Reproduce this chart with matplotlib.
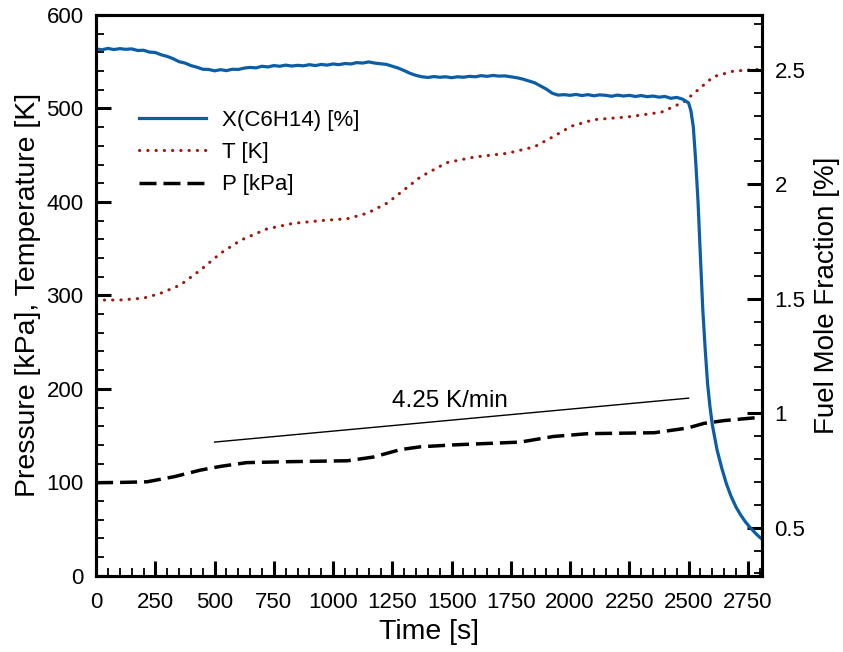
import numpy as np
import matplotlib.pyplot as plt
from matplotlib.ticker import MultipleLocator

plt.rcParams['font.family'] = ['Liberation Sans', 'DejaVu Sans']

# fuel mole fraction X(C6H14) [%], right axis
x_time = list(range(0, 2501, 25)) + [2510, 2520, 2530, 2540, 2550, 2560, 2570, 2580, 2590,
                                     2600, 2620, 2640, 2660, 2680, 2700, 2720, 2740, 2760,
                                     2780, 2800, 2815]
x_frac = [2.592, 2.588, 2.594, 2.589, 2.593, 2.590, 2.592, 2.585, 2.586, 2.578,
          2.576, 2.566, 2.559, 2.549, 2.536, 2.530, 2.519, 2.512, 2.503, 2.502,
          2.496, 2.501, 2.497, 2.503, 2.502, 2.508, 2.511, 2.509, 2.516, 2.513,
          2.519, 2.516, 2.521, 2.517, 2.520, 2.518, 2.523, 2.519, 2.524, 2.521,
          2.526, 2.523, 2.528, 2.526, 2.532, 2.530, 2.535, 2.530, 2.527, 2.524,
          2.516, 2.508, 2.497, 2.485, 2.476, 2.470, 2.467, 2.471, 2.468, 2.470,
          2.466, 2.470, 2.468, 2.472, 2.470, 2.475, 2.472, 2.476, 2.473, 2.474,
          2.470, 2.466, 2.460, 2.452, 2.444, 2.430, 2.416, 2.398, 2.390, 2.392,
          2.389, 2.393, 2.388, 2.392, 2.387, 2.391, 2.389, 2.385, 2.390, 2.386,
          2.389, 2.384, 2.388, 2.383, 2.386, 2.381, 2.384, 2.376, 2.380, 2.372,
          2.356,
          2.32, 2.25, 2.10, 1.92, 1.68, 1.45, 1.28, 1.13, 1.03,
          0.95, 0.84, 0.76, 0.69, 0.635, 0.59, 0.555, 0.525, 0.50,
          0.478, 0.458, 0.445]

# temperature [K]
t_time = [0, 100, 200, 270, 355, 440, 525, 610, 720, 830, 950, 1060, 1145, 1230, 1340,
          1370, 1480, 1595, 1735, 1850, 1930, 2005, 2100, 2245, 2385, 2480, 2540, 2605,
          2690, 2810]
temp = [295, 295, 297, 302, 311, 327, 345, 359, 371, 377, 380, 382, 388, 399, 421,
        427, 442, 448, 452, 459, 470, 481, 488, 491, 496, 507, 520, 534, 540, 542]

# pressure [kPa]
p_time = [0, 100, 215, 330, 440, 525, 635, 805, 1060, 1170, 1285, 1370, 1510, 1790,
          1930, 2075, 2355, 2495, 2565, 2650, 2780, 2810]
pres = [99.5, 99.8, 100.5, 106, 113, 117, 121, 122, 123, 127, 135, 138, 140, 143,
        149, 152, 153, 158, 163, 166, 169, 170]

# heating rate guide
rate_x = [500, 2500]
rate_y = [143, 190]

fig = plt.figure(figsize=(8.43, 6.52), dpi=100)
ax = fig.add_axes([0.114, 0.117, 0.790, 0.860])
ax2 = ax.twinx()

red = '#a0180c'
blue = '#0b5ea6'

l_t, = ax.plot(t_time, temp, color=red, lw=2.2, linestyle=(0, (0.1, 2.6)),
               dash_capstyle='round')
l_p, = ax.plot(p_time, pres, color='black', lw=2.5, linestyle=(0, (4.9, 2.0)))
ax.plot(rate_x, rate_y, color='black', lw=1)
ax.text(1495, 181, '4.25 K/min', fontsize=17.5, ha='center', va='baseline')

l_x, = ax2.plot(x_time, x_frac, color=blue, lw=2.3)

ax.set_xlim(0, 2810)
ax.set_ylim(0, 600)
ax2.set_ylim(0.29, 2.74)

ax.xaxis.set_major_locator(MultipleLocator(250))
ax.xaxis.set_minor_locator(MultipleLocator(50))
ax.yaxis.set_major_locator(MultipleLocator(100))
ax.yaxis.set_minor_locator(MultipleLocator(20))
ax2.yaxis.set_major_locator(MultipleLocator(0.5))
ax2.yaxis.set_minor_locator(MultipleLocator(0.1))
ax2.yaxis.set_major_formatter(plt.FuncFormatter(lambda v, p: f'{v:g}'))

for a in (ax, ax2):
    a.tick_params(which='major', direction='in', length=11, width=2.2, labelsize=16, pad=9)
    a.tick_params(which='minor', direction='in', length=5.5, width=1.3)
    for s in a.spines.values():
        s.set_linewidth(2.2)
ax.tick_params(axis='x', pad=12)
ax.tick_params(top=False, right=False, which='both')

ax.set_xlabel('Time [s]', fontsize=20.5, labelpad=4)
ax.set_ylabel('Pressure [kPa], Temperature [K]', fontsize=20.5, labelpad=4)
ax2.set_ylabel('Fuel Mole Fraction [%]', fontsize=20, labelpad=6)

ax2.legend([l_x, l_t, l_p], ['X(C6H14) [%]', 'T [K]', 'P [kPa]'],
           loc='upper left', bbox_to_anchor=(0.035, 0.866), frameon=False,
           fontsize=16, handlelength=3.0, handletextpad=0.7, labelspacing=0.5)

fig.savefig('out.png', dpi=100)
